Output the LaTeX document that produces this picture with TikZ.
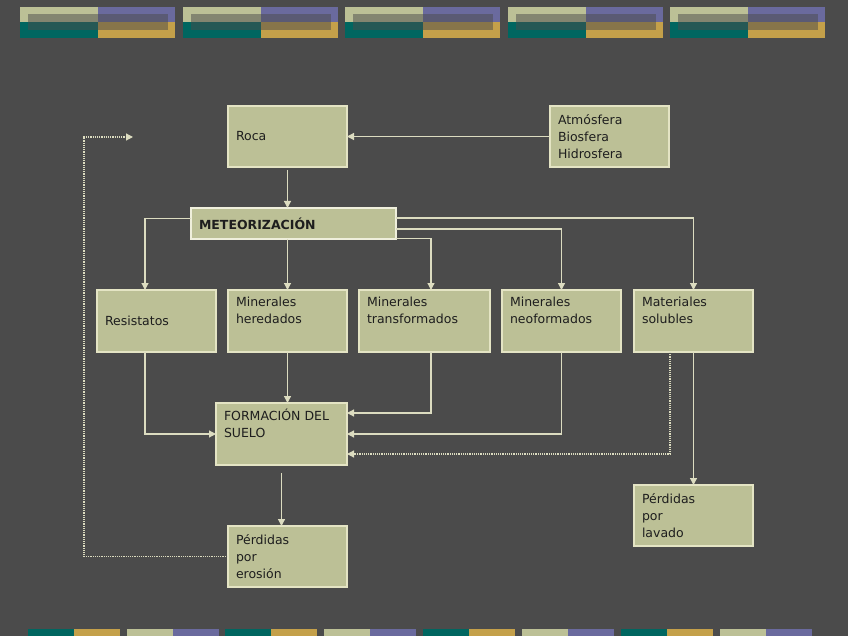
\documentclass[tikz,border=0pt]{standalone}
\usepackage{fontspec}
\setmainfont{DejaVu Sans}
\usetikzlibrary{arrows.meta}
\definecolor{bgdark}{HTML}{4B4B4B}
\definecolor{khaki}{HTML}{BCC096}
\definecolor{tealband}{HTML}{006660}
\definecolor{purpleband}{HTML}{6A6A9E}
\definecolor{goldband}{HTML}{C4A04A}
\definecolor{boxedge}{HTML}{E4E4C4}
\definecolor{wire}{HTML}{DCDCC0}
\definecolor{ink}{HTML}{1E1E1E}
\begin{document}
\begin{tikzpicture}[
  x=1pt, y=-1pt,
  font=\fontsize{12.5}{17}\selectfont,
  box/.style={draw=boxedge, line width=1.2pt, fill=khaki, anchor=north west,
    inner xsep=8pt, inner ysep=0pt, outer sep=0pt, minimum height=61pt,
    text width=#1, align=left, text=ink},
  keybox/.style={box=#1, draw=boxedge!60!white, line width=2.2pt, minimum height=31pt,
    font=\fontsize{12.5}{17}\selectfont\bfseries},
  link/.style={draw=wire, line width=1.2pt, -{Triangle[length=7pt,width=7pt]}},
  back/.style={link, dash pattern=on 1.2pt off 1pt},
]
\path[use as bounding box] (0,0) rectangle (848,636);
\fill[bgdark] (0,0) rectangle (848,636);

% top band
\foreach \x in {20,183,345,508,670} {
  \fill[khaki] (\x,7) rectangle (\x+78,22);
  \fill[purpleband] (\x+78,7) rectangle (\x+155,22);
  \fill[tealband] (\x,22) rectangle (\x+78,38);
  \fill[goldband] (\x+78,22) rectangle (\x+155,38);
  \fill[bgdark, opacity=0.5] (\x+8,14) rectangle (\x+148,30);
}
% bottom band
\foreach \x in {28,225,423,621} {
  \fill[tealband] (\x,629) rectangle (\x+46,636);
  \fill[goldband] (\x+46,629) rectangle (\x+92,636);
  \fill[khaki] (\x+99,629) rectangle (\x+145,636);
  \fill[purpleband] (\x+145,629) rectangle (\x+191,636);
}

% boxes
\node[box=103pt] (roca) at (228,106) {Roca};
\node[box=103pt] (atm) at (550,106) {Atmósfera\\Biosfera\\Hidrosfera};
\node[keybox=189pt] (meteo) at (191,208) {METEORIZACIÓN};

\node[box=103pt, minimum height=62pt] (resist) at (97,290) {Resistatos};
\node[box=103pt, minimum height=62pt] (hered) at (228,290) {Minerales\\heredados\\\strut};
\node[box=115pt, minimum height=62pt] (trans) at (359,290) {Minerales\\transformados\\\strut};
\node[box=103pt, minimum height=62pt] (neo) at (502,290) {Minerales\\neoformados\\\strut};
\node[box=103pt, minimum height=62pt] (solub) at (634,290) {Materiales\\solubles\\\strut};

\node[box=115pt, minimum height=62pt] (suelo) at (216,403) {FORMACIÓN DEL\\SUELO\\\strut};
\node[box=103pt] (erosion) at (228,526) {Pérdidas\\por\\erosión};
\node[box=103pt] (lavado) at (634,485) {Pérdidas\\por\\lavado};

\coordinate (ret) at (133,137);

% connectors
\draw[link] (atm.west) -- (roca.east);
\draw[link] ([yshift=-3pt]roca.south) -- (roca.south |- meteo.north);

\draw[link] ([yshift=5pt]meteo.west) -| ([xshift=-11.5pt]resist.north);
\draw[link] (hered.north |- meteo.south) -- (hered.north);
\draw[link] ([yshift=0.5pt]meteo.south east) -| ([xshift=6.5pt]trans.north);
\draw[link] ([yshift=-5.5pt]meteo.east) -| (neo.north);
\draw[link] ([yshift=5.5pt]meteo.east) -| (solub.north);

\draw[link] ([xshift=-11.5pt]resist.south) |- (suelo.west);
\draw[link] (hered.south) -- (hered.south |- suelo.north);
\draw[link] ([xshift=6.5pt]trans.south) |- ([yshift=21pt]suelo.east);
\draw[link] (neo.south) |- (suelo.east);
\draw[back] ([xshift=-23.5pt]solub.south) |- ([yshift=-20pt]suelo.east);
\draw[link] (solub.south) -- (lavado.north);

\draw[link] ([yshift=-8pt]suelo.south) -- (suelo.south |- erosion.north);
\draw[back] (erosion.west) -| ([xshift=-49pt]ret) -- (ret);
\end{tikzpicture}
\end{document}
